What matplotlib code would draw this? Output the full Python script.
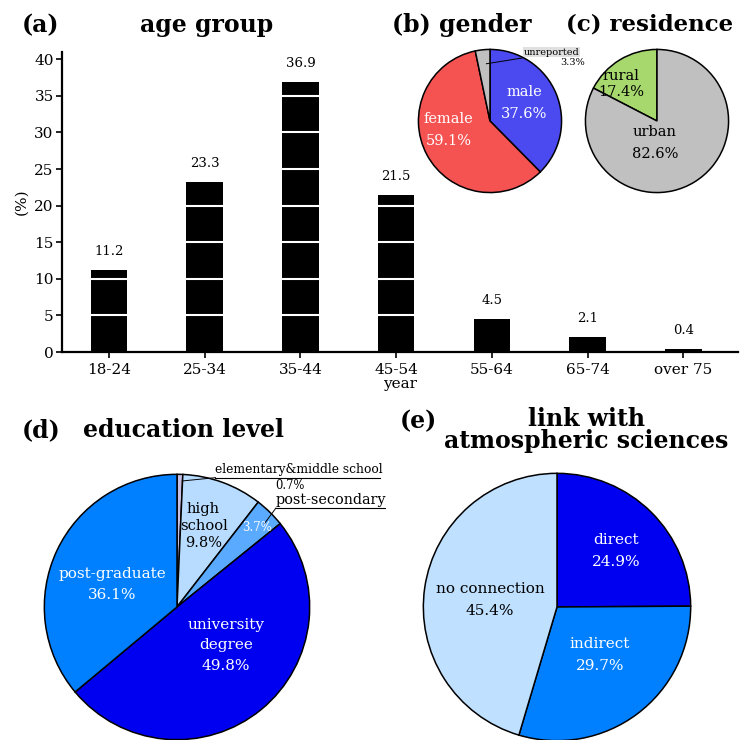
import matplotlib
matplotlib.use("Agg")
import matplotlib.pyplot as plt

plt.rcParams["font.family"] = "DejaVu Serif"

# ---- data ----
age_groups = ["18-24", "25-34", "35-44", "45-54", "55-64", "65-74", "over 75"]
age_pct = [11.2, 23.3, 36.9, 21.5, 4.5, 2.1, 0.4]

gender_labels = ["male", "female", "unreported"]
gender_pct = [37.6, 59.1, 3.3]
gender_colors = ["#4a4af0", "#f55252", "#c0c0c0"]

residence_labels = ["rural", "urban"]
residence_pct = [17.4, 82.6]
residence_colors = ["#a6d86e", "#c0c0c0"]

edu_labels = ["elementary&middle school", "high school", "post-secondary",
              "university degree", "post-graduate"]
edu_pct = [0.7, 9.8, 3.7, 49.8, 36.1]
edu_colors = ["#c8c0e4", "#b8dcff", "#5aaaff", "#0000f0", "#0080ff"]

link_labels = ["direct", "indirect", "no connection"]
link_pct = [24.9, 29.7, 45.4]
link_colors = ["#0000f0", "#0080ff", "#c0e0ff"]

W = 740.0
fig = plt.figure(figsize=(7.4, 7.4), dpi=100)
fig.patch.set_facecolor("white")


def px_axes(cx, cy, r):
    # axes whose square box spans a circle of radius r centred at pixel (cx, cy)
    return fig.add_axes([(cx - r) / W, 1 - (cy + r) / W, 2 * r / W, 2 * r / W])


def ftext(x, y, s, **kw):
    fig.text(x / W, 1 - y / W, s, **kw)


# ==========================================
# (a) age group bar chart
# ==========================================
ax = fig.add_axes([62 / W, 1 - 352 / W, (738 - 62) / W, 300 / W])
xpos = list(range(len(age_groups)))
ax.bar(xpos, age_pct, width=0.38, color="black", zorder=1)
for v in [5, 10, 15, 20, 25, 30, 35, 40]:
    ax.axhline(v, color="white", lw=1.5, zorder=2)
for x, v in zip(xpos, age_pct):
    ax.text(x, v + 1.6, f"{v}", ha="center", va="bottom", fontsize=9.5)
ax.set_xlim(-0.49, 6.57)
ax.set_ylim(0, 41)
ax.set_yticks(range(0, 41, 5))
ax.set_xticks(xpos)
ax.set_xticklabels(age_groups, fontsize=11)
ax.tick_params(axis="y", labelsize=11, direction="out", length=4, width=1.2, pad=2)
ax.tick_params(axis="x", direction="out", length=4, width=1.2, pad=4)
for s in ["top", "right"]:
    ax.spines[s].set_visible(False)
for s in ["left", "bottom"]:
    ax.spines[s].set_linewidth(1.6)
ax.set_xlabel("year", fontsize=11, labelpad=0)
ax.set_ylabel("(%)", fontsize=11, labelpad=4)

ftext(22, 25, "(a)", fontsize=17, fontweight="bold", va="center")
ftext(207, 25, "age group", fontsize=17, fontweight="bold", va="center", ha="center")

# ==========================================
# (b) gender
# ==========================================
pie_kw = dict(wedgeprops=dict(edgecolor="black", linewidth=1.1))
axb = px_axes(490, 121, 73)
axb.pie(gender_pct, colors=gender_colors, startangle=90, counterclock=False, **pie_kw)
axb.set_xlim(-1.02, 1.02)
axb.set_ylim(-1.02, 1.02)
axb.text(0.48, 0.25, f"{gender_labels[0]}\n{gender_pct[0]}%", color="white",
         ha="center", va="center", fontsize=10.5, linespacing=1.75)
axb.text(-0.58, -0.13, f"{gender_labels[1]}\n{gender_pct[1]}%", color="white",
         ha="center", va="center", fontsize=10.5, linespacing=1.75)
axb.plot([-0.05, 0.45], [0.80, 0.88], color="black", lw=0.7, clip_on=False)
axb.text(0.47, 0.96, f"{gender_labels[2]}", fontsize=7, ha="left", va="center",
         bbox=dict(facecolor="#e0e0e0", edgecolor="none", pad=0.5))
axb.text(1.15, 0.82, f"{gender_pct[2]}%", fontsize=7, ha="center", va="center")
ftext(392, 25, "(b) gender", fontsize=17, fontweight="bold", va="center")

# ==========================================
# (c) residence
# ==========================================
axc = px_axes(657, 121, 73)
axc.pie(residence_pct, colors=residence_colors, startangle=90, counterclock=True, **pie_kw)
axc.set_xlim(-1.02, 1.02)
axc.set_ylim(-1.02, 1.02)
axc.text(-0.5, 0.52, f"{residence_labels[0]}\n{residence_pct[0]}%", color="black",
         ha="center", va="center", fontsize=10.5, linespacing=1.2)
axc.text(-0.03, -0.31, f"{residence_labels[1]}\n{residence_pct[1]}%", color="black",
         ha="center", va="center", fontsize=10.5, linespacing=1.7)
ftext(566, 25, "(c) residence", fontsize=16.5, fontweight="bold", va="center")

# ==========================================
# (d) education level
# ==========================================
axd = px_axes(177, 607, 134)
axd.pie(edu_pct, colors=edu_colors, startangle=90, counterclock=False, **pie_kw)
axd.set_xlim(-1.01, 1.01)
axd.set_ylim(-1.01, 1.01)
axd.text(0.2, 0.61, "high\nschool\n" + f"{edu_pct[1]}%", ha="center", va="center",
         fontsize=10.5, linespacing=1.3)
axd.text(0.6, 0.6, f"{edu_pct[2]}%", ha="center", va="center", fontsize=8.5, color="white")
axd.text(-0.49, 0.17, f"{edu_labels[4]}\n{edu_pct[4]}%", ha="center", va="center",
         fontsize=11, color="white", linespacing=1.7)
axd.text(0.37, -0.29, "university\ndegree\n" + f"{edu_pct[3]}%", ha="center", va="center",
         fontsize=11, color="white", linespacing=1.6)
# leader lines + underlined labels
axd.plot([0.04, 0.29], [0.95, 0.975], color="black", lw=0.7, clip_on=False)
axd.text(0.29, 0.985, edu_labels[0], fontsize=8.8, ha="left", va="bottom")
axd.plot([0.29, 1.53], [0.975, 0.975], color="black", lw=0.8, clip_on=False)
axd.text(0.85, 0.915, f"{edu_pct[0]}%", fontsize=8.3, ha="center", va="center")
axd.plot([0.66, 0.745], [0.63, 0.745], color="black", lw=0.7, clip_on=False)
axd.text(0.745, 0.755, edu_labels[2], fontsize=10.4, ha="left", va="bottom")
axd.plot([0.745, 1.57], [0.745, 0.745], color="black", lw=0.8, clip_on=False)
ftext(22, 430, "(d)", fontsize=17, fontweight="bold", va="center")
ftext(83, 430, "education level", fontsize=17, fontweight="bold", va="center")

# ==========================================
# (e) link with atmospheric sciences
# ==========================================
axe = px_axes(557, 607, 135)
axe.pie(link_pct, colors=link_colors, startangle=90, counterclock=False, **pie_kw)
axe.set_xlim(-1.01, 1.01)
axe.set_ylim(-1.01, 1.01)
axe.text(0.44, 0.42, f"{link_labels[0]}\n{link_pct[0]}%", ha="center", va="center",
         fontsize=11, color="white", linespacing=1.7)
axe.text(0.32, -0.36, f"{link_labels[1]}\n{link_pct[1]}%", ha="center", va="center",
         fontsize=11, color="white", linespacing=1.7)
axe.text(-0.5, 0.05, f"{link_labels[2]}\n{link_pct[2]}%", ha="center", va="center",
         fontsize=11, color="black", linespacing=1.7)
ftext(400, 421, "(e)", fontsize=17, fontweight="bold", va="center")
ftext(586, 430, "link with\natmospheric sciences", fontsize=17, fontweight="bold",
      va="center", ha="center", linespacing=0.85)

fig.savefig("out.png", dpi=100)
